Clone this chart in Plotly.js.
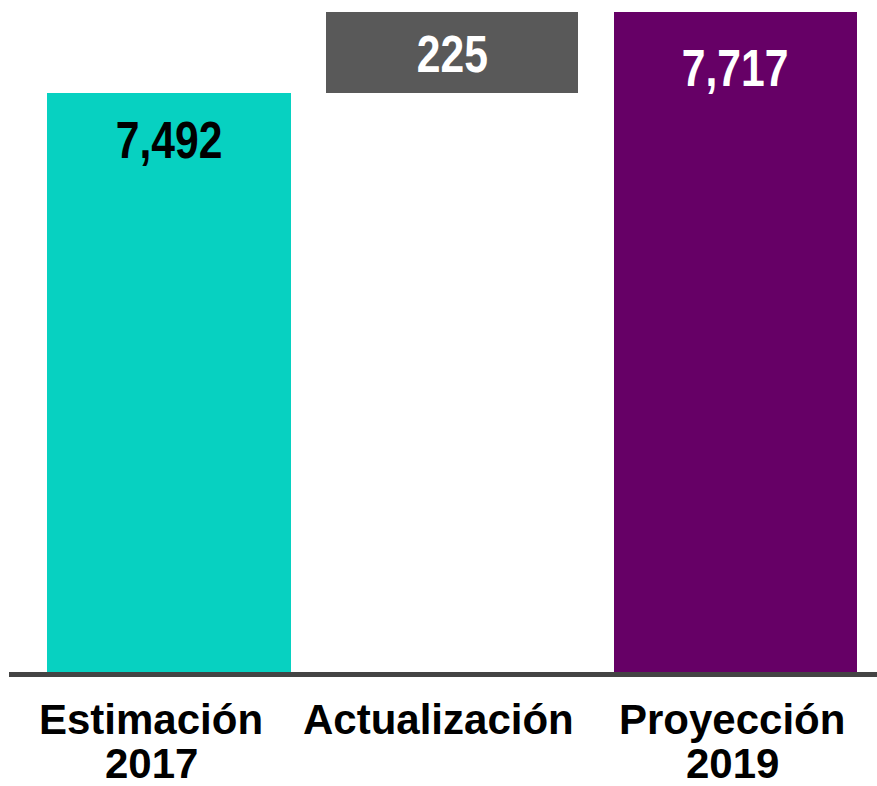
<!DOCTYPE html>
<html>
<head>
<meta charset="utf-8">
<script src="https://cdn.plot.ly/plotly-3.0.1.min.js"></script>
<style>
html,body{margin:0;padding:0;background:#fff;}
#chart{width:877px;height:786px;}
</style>
</head>
<body>
<div id="chart"></div>
<script>
// Data
var catLine1 = ["Estimación", "Actualización", "Proyección"];
var catLine2 = ["2017", "", "2019"];
var values = [7492, 225, 7717];
var bases = [0, 7492, 0];
var labels = ["7,492", "225", "7,717"];

var barColors = ["#07D1C1", "#595959", "#660066"];
var labelColors = ["#000000", "#ffffff", "#ffffff"];
var labelShift = [-47, -42, -56];
var catXShift = [-18, -14, -3];

var trace = {
  type: "bar",
  x: [0, 1, 2],
  y: values,
  base: bases,
  width: [0.86, 0.89, 0.86],
  marker: {color: barColors, line: {width: 0}},
  hoverinfo: "skip",
  showlegend: false
};

var annotations = values.map(function(v, i){
  return {
    x: i,
    y: bases[i] + v,
    xref: "x", yref: "y",
    text: labels[i],
    showarrow: false,
    yanchor: "middle",
    yshift: labelShift[i],
    font: {family: "'Liberation Sans Narrow', 'Arial Narrow', 'Liberation Sans', Arial, sans-serif", size: 52, color: labelColors[i], weight: "bold"}
  };
});

var catFont = {family: "'Liberation Sans', Arial, sans-serif", size: 42, color: "#000000", weight: "bold"};
catLine1.forEach(function(t, i){
  annotations.push({x: i, y: 0, xref: "x", yref: "paper", text: t, showarrow: false,
    yanchor: "top", yshift: -22, xshift: catXShift[i], font: catFont});
});
catLine2.forEach(function(t, i){
  if (!t) return;
  annotations.push({x: i, y: 0, xref: "x", yref: "paper", text: t, showarrow: false,
    yanchor: "top", yshift: -66, xshift: catXShift[i], font: catFont});
});

var layout = {
  width: 877, height: 786,
  margin: {l: 9, r: 0, t: 0, b: 114},
  paper_bgcolor: "#ffffff",
  plot_bgcolor: "#ffffff",
  bargap: 0,
  xaxis: {
    range: [-0.565, 2.5],
    tickmode: "array",
    tickvals: [0, 1, 2],
    showticklabels: false,
    showgrid: false,
    zeroline: false,
    showline: true,
    linecolor: "#444444",
    linewidth: 5,
    ticks: "",
    fixedrange: true
  },
  yaxis: {
    range: [5884, 7751],
    visible: false,
    showgrid: false,
    zeroline: false,
    fixedrange: true
  },
  annotations: annotations
};

Plotly.newPlot("chart", [trace], layout, {displayModeBar: false, staticPlot: true}).then(function(){
  // condense the value labels horizontally (narrow bold look)
  for (var i = 0; i < values.length; i++) {
    var el = document.querySelector('.annotation[data-index="' + i + '"] text.annotation-text');
    if (!el) continue;
    var bb = el.getBBox();
    var cx = bb.x + bb.width / 2;
    el.setAttribute("transform", "translate(" + cx + ",0) scale(0.82,1) translate(" + (-cx) + ",0)");
  }
});
</script>
</body>
</html>
